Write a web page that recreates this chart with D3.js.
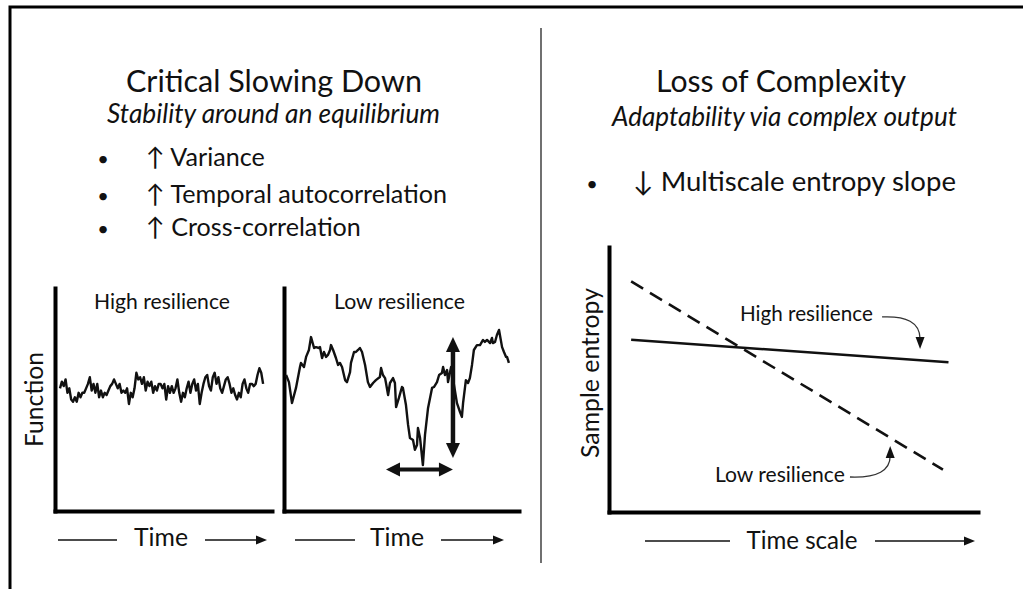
<!DOCTYPE html>
<html><head><meta charset="utf-8">
<script src="https://cdn.jsdelivr.net/npm/d3@7"></script>
<style>
body{margin:0;background:#fff}
svg{display:block}
text{font-family:Lato,"Open Sans","DejaVu Sans",sans-serif;fill:#111}
</style>
</head><body>
<svg id="c" width="1023" height="589"></svg>
<script>
// ---------------- data ----------------
const highSeries = [55,58,56,59,53,55,50,49,51,49,53,51,53,53,55,57,60,54,57,53,57,51,54,51,53,52,54,56,57,59,57,55,57,53,54,53,55,48,53,51,55,62,59,60,57,60,54,58,56,58,53,56,54,
57,57,55,57,50,56,53,56,53,55,59,53,49,53,51,55,58,53,57,59,54,57,48,53,57,60,61,56,54,60,62,57,60,55,53,56,59,60,57,53,55,52,50,53,51,57,59,55,53,57,57,56,57,61,64,62,57];
const highStart = 2.3, highEnd = 95.9;
const lowSeries = [[0.9,61.0],[2.1,57.8],[3.4,48.4],[5.1,55.2],[6.8,64.6],[7.2,66.4],[8.5,64.6],[9.4,69.1],[10.6,72.2],[11.5,78.0],[12.8,73.1],[13.6,73.5],[14.9,73.1],[15.3,73.5],[16.2,68.6],[17.0,71.3],[17.9,69.1],[18.7,70.0],[19.6,72.2],[20.0,74.4],[20.9,72.2],[22.1,68.6],[23.0,65.5],[23.8,66.4],[24.7,64.6],[26.0,58.7],[26.8,57.8],[28.1,62.3],[28.5,66.4],[29.8,71.3],[30.6,71.3],[31.5,72.2],[32.3,73.1],[33.2,71.3],[34.5,65.5],[35.7,57.8],[36.6,55.6],[37.9,57.4],[39.1,58.7],[40.8,60.1],[41.3,64.1],[42.1,61.0],[43.0,59.6],[43.4,57.4],[44.3,52.0],[45.1,57.4],[46.4,59.6],[47.2,57.4],[47.7,46.6],[48.9,50.7],[50.2,55.6],[50.6,55.2],[51.9,47.5],[52.8,38.6],[53.6,32.7],[54.9,31.8],[55.7,27.4],[56.6,29.6],[57.0,37.2],[57.9,32.7],[59.1,20.6],[60.0,34.1],[61.3,46.2],[63.0,55.2],[63.8,55.6],[65.1,57.8],[66.0,61.0],[67.2,61.9],[67.7,64.6],[68.5,61.0],[69.4,63.2],[69.8,57.8],[71.1,64.6],[73.6,48.4],[74.9,44.4],[75.7,42.2],[76.2,48.4],[77.4,58.7],[78.3,57.4],[79.1,59.6],[80.0,65.5],[80.8,72.2],[82.1,74.4],[83.4,74.4],[84.7,76.7],[85.5,75.8],[86.4,76.7],[87.7,75.3],[88.5,77.6],[88.9,75.3],[89.8,75.8],[90.6,78.9],[91.5,81.2],[92.8,73.5],[93.6,71.3],[94.5,69.1],[94.9,69.1],[95.7,66.4]];
const varianceArrow = {t:71.9, from:78.0, to:23.8};
const lagArrow = {v:18.6, from:43.4, to:71.9};
const entropyHigh = [[0.6,6.5],[9.2,5.65]];
const entropyLow = [[0.6,8.7],[9.05,1.6]];
const leftBullets = ["↑ Variance","↑ Temporal autocorrelation","↑ Cross-correlation"];
const rightBullets = ["↓ Multiscale entropy slope"];
const panelTitles = ["High resilience","Low resilience"];
const highLabel = {text:"High resilience", t:3.55, v:7.21, curve:[[7.40,7.36],[8.05,7.40],[8.43,7.17],[8.43,6.15]]};
const lowLabel = {text:"Low resilience", t:2.87, v:1.13, curve:[[6.53,1.32],[7.29,1.28],[7.62,1.58],[7.62,2.49]]};

// ---------------- setup ----------------
const svg = d3.select("#c");
const INK = "#111";

function fit(sel, target){
  const fs = +sel.attr("font-size");
  const w = sel.node().getComputedTextLength();
  sel.attr("font-size", (fs*target/w).toFixed(2));
  return sel;
}
function addText(x,y,str,opt={}){
  const t = svg.append("text").attr("x",x).attr("y",y).text(str)
    .attr("font-size",opt.size||20)
    .attr("text-anchor",opt.anchor||"start");
  if(opt.italic) t.attr("font-style","italic");
  if(opt.rotate) t.attr("transform",`rotate(-90 ${x} ${y})`);
  if(opt.width) fit(t,opt.width);
  return t;
}
function head(x,y,angle,len,wid){
  const c=Math.cos(angle), s=Math.sin(angle);
  const bx=x-len*c, by=y-len*s;
  const px=-s*wid/2, py=c*wid/2;
  svg.append("path").attr("d",`M${x},${y}L${bx+px},${by+py}L${bx-px},${by-py}Z`).attr("fill",INK);
}
function arrowLine(x1,y1,x2,y2,sw,len,wid,both){
  const a=Math.atan2(y2-y1,x2-x1);
  const c=Math.cos(a), s=Math.sin(a);
  const sx = both? x1+(len-2)*c : x1, sy = both? y1+(len-2)*s : y1;
  svg.append("line").attr("x1",sx).attr("y1",sy).attr("x2",x2-(len-2)*c).attr("y2",y2-(len-2)*s)
    .attr("stroke",INK).attr("stroke-width",sw);
  head(x2,y2,a,len,wid);
  if(both) head(x1,y1,a+Math.PI,len,wid);
}
function timeRow(c,y,label,lOff,rOff,width,base){
  svg.append("line").attr("x1",c+lOff[0]).attr("x2",c+lOff[1]).attr("y1",y).attr("y2",y).attr("stroke",INK).attr("stroke-width",1.6);
  arrowLine(c+rOff[0],y,c+rOff[1],y,1.6,11,9,false);
  addText(c,base,label,{anchor:"middle",size:21,width:width});
}

// ---------------- frame ----------------
svg.append("path").attr("d","M10,589V7H1023").attr("fill","none").attr("stroke","#000").attr("stroke-width",3);
svg.append("line").attr("x1",541).attr("x2",541).attr("y1",28).attr("y2",563).attr("stroke","#111").attr("stroke-width",1.2);

// ---------------- left headings ----------------
addText(274,92,"Critical Slowing Down",{anchor:"middle",size:26,width:296});
addText(273.5,123,"Stability around an equilibrium",{anchor:"middle",size:21,italic:true,width:333});
const lb = leftBullets.map((s,i)=>addText(146,[166,203,236][i],s,{size:21}));
{ const w=lb[1].node().getComputedTextLength(); const fs=21*301/w; lb.forEach(t=>t.attr("font-size",fs)); }
[166,203,236].forEach(y=>addText(103,y,"•",{anchor:"middle",size:20}));

// ---------------- right headings ----------------
addText(781,92,"Loss of Complexity",{anchor:"middle",size:26,width:250});
addText(784.5,126,"Adaptability via complex output",{anchor:"middle",size:21,italic:true,width:345});
rightBullets.forEach((s,i)=>addText(633,191,s,{size:21,width:323}));
addText(592,191,"•",{anchor:"middle",size:20});

// ---------------- left panels ----------------
const yFn = d3.scaleLinear().domain([0,100]).range([511,288]);
const xHigh = d3.scaleLinear().domain([0,100]).range([55,272]);
const xLow = d3.scaleLinear().domain([0,100]).range([284,519]);

function panelAxes(x,y){
  const gx = svg.append("g").attr("transform",`translate(0,${y.range()[0]})`).call(d3.axisBottom(x).tickValues([]).tickSizeOuter(0));
  const gy = svg.append("g").attr("transform",`translate(${x.range()[0]},0)`).call(d3.axisLeft(y).tickValues([]).tickSizeOuter(0));
  [gx,gy].forEach(g=>g.select(".domain").attr("stroke","#000").attr("stroke-width",4).attr("stroke-linecap","square"));
}
panelAxes(xHigh,yFn);
panelAxes(xLow,yFn);

const highPts = highSeries.map((v,i)=>[highStart + i*(highEnd-highStart)/(highSeries.length-1), v]);
svg.append("path").datum(highPts)
  .attr("d",d3.line().x(d=>xHigh(d[0])).y(d=>yFn(d[1])))
  .attr("fill","none").attr("stroke",INK).attr("stroke-width",2.4).attr("stroke-linejoin","round");
svg.append("path").datum(lowSeries)
  .attr("d",d3.line().x(d=>xLow(d[0])).y(d=>yFn(d[1])))
  .attr("fill","none").attr("stroke",INK).attr("stroke-width",2.4).attr("stroke-linejoin","round");

// variance & lag arrows
arrowLine(xLow(varianceArrow.t),yFn(varianceArrow.to),xLow(varianceArrow.t),yFn(varianceArrow.from),4.5,15,14,true);
arrowLine(xLow(lagArrow.from),yFn(lagArrow.v),xLow(lagArrow.to),yFn(lagArrow.v),4,14,14,true);

addText(162,309,panelTitles[0],{anchor:"middle",size:18,width:136});
addText(399.5,309,panelTitles[1],{anchor:"middle",size:18,width:131});
addText(43,399.5,"Function",{anchor:"middle",size:20,rotate:true,width:95});

timeRow(161,540,"Time",[-103,-44],[44,106],54,546);
timeRow(397,540,"Time",[-102,-42],[44,107],54,546);

// ---------------- right chart ----------------
const xR = d3.scaleLinear().domain([0,10]).range([609,978]);
const yR = d3.scaleLinear().domain([0,10]).range([512,247]);
panelAxes(xR,yR);
const lineR = d3.line().x(d=>xR(d[0])).y(d=>yR(d[1]));
svg.append("path").datum(entropyHigh).attr("d",lineR).attr("fill","none").attr("stroke",INK).attr("stroke-width",2.6);
svg.append("path").datum(entropyLow).attr("d",lineR).attr("fill","none").attr("stroke",INK).attr("stroke-width",2.6).attr("stroke-dasharray","14,8");

[ [highLabel,133], [lowLabel,130] ].forEach(([L,w])=>{
  addText(xR(L.t),yR(L.v),L.text,{size:18,width:w});
  const p=L.curve.map(d=>[xR(d[0]),yR(d[1])]);
  const len=12, hw=9;
  const a=Math.atan2(p[3][1]-p[2][1],p[3][0]-p[2][0]);
  const ex=p[3][0]-(len-2)*Math.cos(a), ey=p[3][1]-(len-2)*Math.sin(a);
  svg.append("path").attr("d",`M${p[0]}C${p[1]} ${p[2]} ${ex},${ey}`).attr("fill","none").attr("stroke","#333").attr("stroke-width",1.3);
  head(p[3][0],p[3][1],a,len,hw);
});

addText(599,373,"Sample entropy",{anchor:"middle",size:21,rotate:true,width:170});
timeRow(802,541,"Time scale",[-157,-72],[73,173],111,549);
</script>
</body></html>
